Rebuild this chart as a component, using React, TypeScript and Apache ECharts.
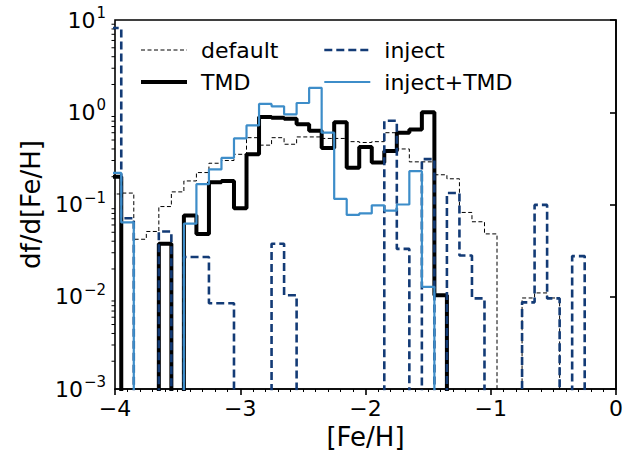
import React, { useEffect, useRef } from "react";
import * as echarts from "echarts";

// Histogram bins: first edge and width ([Fe/H])
const BIN_LO = -4.05;
const BIN_W = 0.1;

// df/d[Fe/H] per bin (bin centres -4.0, -3.9, ..., -0.1); 0 = empty bin
const defaultVals = [
  0.13, 0.133, 0.042, 0.051, 0.095, 0.137, 0.18, 0.222, 0.28, 0.3,
  0.35, 0.53, 0.44, 0.53, 0.45, 0.54, 0.54, 0.52, 0.52, 0.48,
  0.47, 0.48, 0.6, 0.4, 0.29, 0.29, 0.21, 0.19, 0.082, 0.065,
  0.048, 0, 0, 0.0097, 0.011, 0.0097, 0, 0, 0, 0,
];
const tmdVals = [
  0.2, 0, 0, 0, 0.0375, 0, 0.076, 0.048, 0.174, 0.18,
  0.091, 0.35, 0.89, 0.87, 0.85, 0.74, 0.63, 0.41, 0.78, 0.25,
  0.42, 0.285, 0.38, 0.6, 0.65, 1.0, 0.0104, 0, 0, 0,
  0, 0, 0, 0, 0, 0, 0, 0, 0, 0,
];
const injectVals = [
  8.2, 0.071, 0, 0, 0.051, 0, 0.027, 0.027, 0.0085, 0.0085,
  0, 0, 0, 0.0375, 0.0104, 0, 0, 0, 0, 0,
  0, 0, 0.81, 0.033, 0, 0.31, 0, 0.133, 0.028, 0.0096,
  0, 0, 0, 0.0087, 0.099, 0.0096, 0, 0.0276, 0, 0,
];
const injectTmdVals = [
  0.22, 0.064, 0, 0, 0, 0, 0.062, 0.166, 0.24, 0.32,
  0.52, 0.72, 1.23, 1.16, 0.95, 1.26, 1.84, 0.6, 0.115, 0.077,
  0.08, 0.098, 0.086, 0.1, 0.23, 0.0128, 0, 0, 0, 0,
  0, 0, 0, 0, 0, 0, 0, 0, 0, 0,
];

const yMin = 1e-3;
const yMax = 10;
const yMinorTicks = [2, 3, 4, 5, 6, 7, 8, 9];
const yDecades = [-3, -2, -1, 0];

const FONT = "DejaVu Sans";
const FLOOR = 1e-7;
const NAVY = "#133b76";
const LIGHT = "#3d8dc9";

function r(v: number) {
  return Math.round(v * 1000) / 1000;
}

function stepData(vals: number[]) {
  const pts: number[][] = [[r(BIN_LO), FLOOR]];
  vals.forEach((v, i) => pts.push([r(BIN_LO + i * BIN_W), v > 0 ? v : FLOOR]));
  pts.push([r(BIN_LO + vals.length * BIN_W), FLOOR]);
  return pts;
}

const minorVals: number[] = [];
yDecades.forEach((d) => yMinorTicks.forEach((k) => minorVals.push(k * Math.pow(10, d))));

export default function App() {
  const ref = useRef<HTMLDivElement>(null);
  useEffect(() => {
    if (!ref.current) return;
    const chart = echarts.init(ref.current, undefined, { renderer: "svg" });
    const lineSeries = (name: string, vals: number[], style: any, z: number) => ({
      name,
      type: "line",
      step: "end",
      data: stepData(vals),
      symbol: "none",
      showSymbol: false,
      clip: true,
      z,
      lineStyle: style,
      itemStyle: { color: style.color },
    });
    const legendBase = {
      orient: "vertical",
      top: 34,
      itemWidth: 46,
      itemHeight: 14,
      itemGap: 10,
      itemStyle: { opacity: 0 },
      lineStyle: { width: "inherit" },
      textStyle: { fontSize: 22, fontFamily: FONT, color: "#000", padding: [0, 0, 0, 9] },
    };
    chart.setOption({
      animation: false,
      backgroundColor: "#ffffff",
      textStyle: { fontFamily: FONT },
      grid: {
        left: 115,
        right: 19,
        top: 20,
        bottom: 64,
        show: true,
        borderColor: "#000",
        borderWidth: 1.6,
        backgroundColor: "transparent",
      },
      legend: [
        { ...legendBase, data: ["default", "TMD"], left: 134 },
        { ...legendBase, data: ["inject", "inject+TMD"], left: 318 },
      ],
      xAxis: {
        type: "value",
        min: -4,
        max: 0,
        interval: 1,
        name: "[Fe/H]",
        nameLocation: "middle",
        nameGap: 35,
        nameTextStyle: { fontSize: 26, fontFamily: FONT, color: "#000" },
        axisLine: { show: true, onZero: false, lineStyle: { color: "#000", width: 1.6 } },
        axisTick: { show: true, length: 6, lineStyle: { color: "#000", width: 1.6 } },
        minorTick: { show: true, splitNumber: 10, length: 3, lineStyle: { color: "#000", width: 1 } },
        splitLine: { show: false },
        axisLabel: {
          fontSize: 22,
          fontFamily: FONT,
          color: "#000",
          margin: 8,
          formatter: (v: number) => (v < 0 ? "\u2212" + -v : String(v)),
        },
      },
      yAxis: {
        type: "log",
        logBase: 10,
        min: yMin,
        max: yMax,
        name: "df/d[Fe/H]",
        nameLocation: "middle",
        nameGap: 68,
        nameTextStyle: { fontSize: 26, fontFamily: FONT, color: "#000" },
        axisLine: { show: true, lineStyle: { color: "#000", width: 1.6 } },
        axisTick: { show: true, length: 6, lineStyle: { color: "#000", width: 1.6 } },
        splitLine: { show: false },
        axisLabel: {
          color: "#000",
          margin: 9,
          formatter: (v: number) => {
            const e = Math.round(Math.log10(v));
            return "{b|10}{s|" + (e < 0 ? "\u2212" + -e : String(e)) + "}";
          },
          rich: {
            b: { fontSize: 22, fontFamily: FONT, color: "#000" },
            s: { fontSize: 15, fontFamily: FONT, color: "#000", padding: [0, 0, 14, 1] },
          },
        },
      },
      series: [
        lineSeries("default", defaultVals, { color: "#000", width: 1, type: [4, 2.5] }, 2),
        lineSeries("TMD", tmdVals, { color: "#000", width: 4 }, 3),
        lineSeries("inject", injectVals, { color: NAVY, width: 2.6, type: [8, 4] }, 4),
        lineSeries("inject+TMD", injectTmdVals, { color: LIGHT, width: 2.2 }, 5),
        {
          type: "custom",
          silent: true,
          clip: false,
          data: minorVals,
          renderItem: (params: any, api: any) => {
            const p = api.coord([-4, api.value(0)]);
            return {
              type: "line",
              shape: { x1: p[0] - 3.5, y1: p[1], x2: p[0], y2: p[1] },
              style: { stroke: "#000", lineWidth: 1 },
            };
          },
          encode: { y: 0 },
        },
      ],
    });
    return () => chart.dispose();
  }, []);
  return (
    <div
      ref={ref}
      style={{ position: "fixed", left: 0, top: 0, width: 635, height: 455, background: "#fff" }}
    />
  );
}
